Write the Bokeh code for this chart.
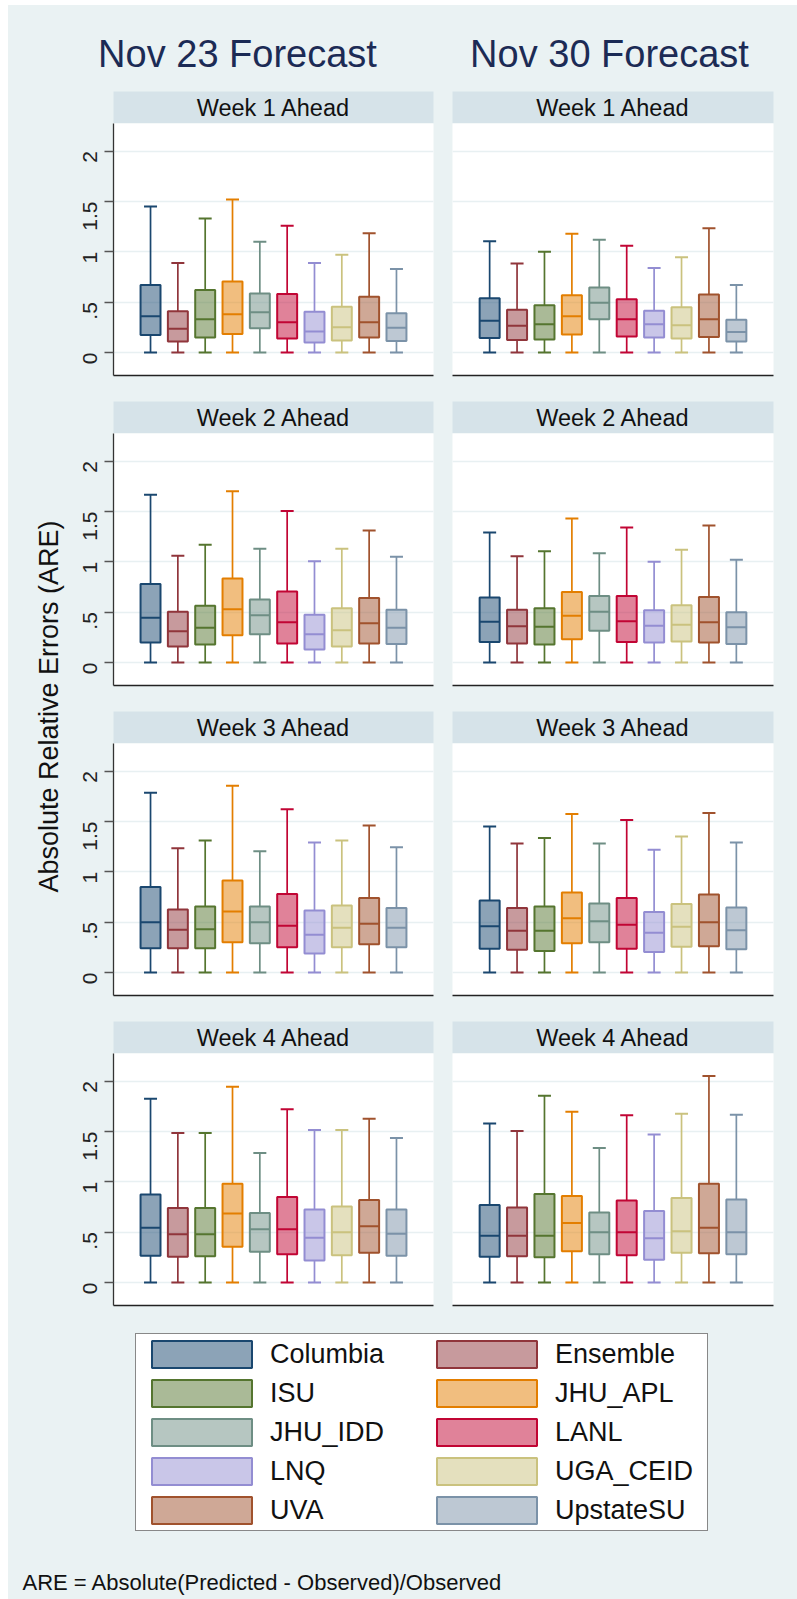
import math
from bokeh.plotting import figure
from bokeh.models import (Range1d, LinearAxis, FixedTicker, Grid, Label, Legend,
                          LegendItem, ColumnDataSource)
from bokeh.layouts import column, row
from bokeh.embed import file_html
from bokeh.resources import INLINE

# ---------------- data ----------------
MODELS = ["Columbia", "Ensemble", "ISU", "JHU_APL", "JHU_IDD",
          "LANL", "LNQ", "UGA_CEID", "UVA", "UpstateSU"]
LINE_COLORS = ["#1a476f", "#90353b", "#55752f", "#e37e00", "#6e8e84",
               "#c10534", "#938dd2", "#cac27e", "#a0522d", "#7b92a8"]
FORECASTS = ["Nov 23 Forecast", "Nov 30 Forecast"]
WEEKS = ["Week 1 Ahead", "Week 2 Ahead", "Week 3 Ahead", "Week 4 Ahead"]
Y_TICKS = [0, 0.5, 1, 1.5, 2]
Y_TICK_LABELS = ["0", ".5", "1", "1.5", "2"]
Y_LABEL = "Absolute Relative Errors (ARE)"
FOOTNOTE = "ARE = Absolute(Predicted - Observed)/Observed"

LOWER = [0, 0, 0, 0, 0, 0, 0, 0, 0, 0]

N23_W1_UPPER = [1.45, 0.89, 1.33, 1.52, 1.10, 1.26, 0.89, 0.97, 1.185, 0.83]
N23_W1_Q3 = [0.67, 0.41, 0.62, 0.705, 0.585, 0.58, 0.405, 0.455, 0.555, 0.39]
N23_W1_MED = [0.36, 0.235, 0.33, 0.38, 0.40, 0.30, 0.21, 0.25, 0.30, 0.245]
N23_W1_Q1 = [0.175, 0.11, 0.15, 0.185, 0.24, 0.14, 0.10, 0.12, 0.15, 0.115]

N30_W1_UPPER = [1.105, 0.885, 1.0, 1.18, 1.12, 1.06, 0.84, 0.945, 1.235, 0.67]
N30_W1_Q3 = [0.54, 0.425, 0.47, 0.57, 0.645, 0.53, 0.415, 0.45, 0.575, 0.325]
N30_W1_MED = [0.315, 0.265, 0.28, 0.36, 0.495, 0.33, 0.28, 0.27, 0.33, 0.205]
N30_W1_Q1 = [0.145, 0.125, 0.13, 0.18, 0.33, 0.16, 0.15, 0.14, 0.155, 0.11]

N23_W2_UPPER = [1.665, 1.06, 1.17, 1.70, 1.13, 1.505, 1.005, 1.13, 1.31, 1.05]
N23_W2_Q3 = [0.78, 0.505, 0.565, 0.835, 0.625, 0.705, 0.475, 0.54, 0.64, 0.525]
N23_W2_MED = [0.445, 0.31, 0.345, 0.53, 0.47, 0.40, 0.28, 0.32, 0.39, 0.345]
N23_W2_Q1 = [0.20, 0.16, 0.18, 0.27, 0.28, 0.19, 0.13, 0.16, 0.19, 0.185]

N30_W2_UPPER = [1.29, 1.055, 1.105, 1.43, 1.085, 1.34, 1.0, 1.12, 1.36, 1.02]
N30_W2_Q3 = [0.645, 0.525, 0.54, 0.70, 0.66, 0.66, 0.52, 0.57, 0.65, 0.50]
N30_W2_MED = [0.405, 0.36, 0.355, 0.465, 0.505, 0.41, 0.365, 0.375, 0.40, 0.35]
N30_W2_Q1 = [0.205, 0.19, 0.18, 0.23, 0.315, 0.205, 0.20, 0.21, 0.20, 0.185]

N23_W3_UPPER = [1.785, 1.235, 1.31, 1.855, 1.205, 1.62, 1.29, 1.31, 1.46, 1.245]
N23_W3_Q3 = [0.85, 0.625, 0.655, 0.915, 0.655, 0.78, 0.615, 0.665, 0.74, 0.64]
N23_W3_MED = [0.50, 0.425, 0.43, 0.605, 0.50, 0.465, 0.375, 0.445, 0.485, 0.445]
N23_W3_Q1 = [0.24, 0.24, 0.24, 0.30, 0.29, 0.25, 0.19, 0.25, 0.28, 0.25]

N30_W3_UPPER = [1.45, 1.28, 1.335, 1.575, 1.28, 1.515, 1.22, 1.35, 1.585, 1.29]
N30_W3_Q3 = [0.715, 0.64, 0.655, 0.795, 0.685, 0.74, 0.60, 0.68, 0.775, 0.645]
N30_W3_MED = [0.46, 0.415, 0.415, 0.54, 0.51, 0.475, 0.395, 0.455, 0.50, 0.42]
N30_W3_Q1 = [0.235, 0.225, 0.215, 0.29, 0.30, 0.235, 0.205, 0.255, 0.26, 0.23]

N23_W4_UPPER = [1.825, 1.485, 1.485, 1.945, 1.285, 1.72, 1.515, 1.515, 1.625, 1.435]
N23_W4_Q3 = [0.875, 0.74, 0.74, 0.98, 0.69, 0.85, 0.725, 0.755, 0.82, 0.725]
N23_W4_MED = [0.545, 0.48, 0.48, 0.685, 0.53, 0.53, 0.445, 0.50, 0.56, 0.485]
N23_W4_Q1 = [0.265, 0.255, 0.26, 0.355, 0.305, 0.28, 0.22, 0.27, 0.295, 0.265]

N30_W4_UPPER = [1.58, 1.505, 1.855, 1.695, 1.335, 1.66, 1.47, 1.675, 2.05, 1.665]
N30_W4_Q3 = [0.77, 0.745, 0.88, 0.86, 0.695, 0.815, 0.71, 0.84, 0.98, 0.825]
N30_W4_MED = [0.465, 0.465, 0.465, 0.59, 0.50, 0.50, 0.44, 0.51, 0.545, 0.50]
N30_W4_Q1 = [0.255, 0.26, 0.25, 0.31, 0.28, 0.27, 0.225, 0.295, 0.29, 0.28]

PANELS = [
    [(N23_W1_UPPER, N23_W1_Q3, N23_W1_MED, N23_W1_Q1),
     (N30_W1_UPPER, N30_W1_Q3, N30_W1_MED, N30_W1_Q1)],
    [(N23_W2_UPPER, N23_W2_Q3, N23_W2_MED, N23_W2_Q1),
     (N30_W2_UPPER, N30_W2_Q3, N30_W2_MED, N30_W2_Q1)],
    [(N23_W3_UPPER, N23_W3_Q3, N23_W3_MED, N23_W3_Q1),
     (N30_W3_UPPER, N30_W3_Q3, N30_W3_MED, N30_W3_Q1)],
    [(N23_W4_UPPER, N23_W4_Q3, N23_W4_MED, N23_W4_Q1),
     (N30_W4_UPPER, N30_W4_Q3, N30_W4_MED, N30_W4_Q1)],
]

# ---------------- style ----------------
BG = "#EAF2F3"
STRIP = "#D6E3E9"
GRID = "#E8F0F2"
TITLE_COLOR = "#1C2B55"
FONT = "Liberation Sans"
BGSTYLE = {"background-color": BG}

COL_W = [372, 355]
BORDER_L = [43, 10]
BORDER_R = [9, 24]
FRAME_H = 252
PANEL_H = [278, 278, 278, 256]
STRIP_H = 32
X_POS = list(range(len(MODELS)))


def base_fig(width, height, bl, br, bt, bb, xr, yr, bgfill):
    p = figure(width=width, height=height, x_range=xr, y_range=yr,
               x_axis_location=None, y_axis_location=None,
               toolbar_location=None, output_backend="svg", title=None,
               min_border_left=bl, min_border_right=br,
               min_border_top=bt, min_border_bottom=bb,
               background_fill_color=bgfill, border_fill_color=BG,
               outline_line_color=None, styles=BGSTYLE)
    p.center = [c for c in p.center if not isinstance(c, Grid)]
    p.renderers = [c for c in p.renderers if not isinstance(c, Grid)]
    return p


def make_strip(text, c):
    p = base_fig(COL_W[c], STRIP_H, BORDER_L[c], BORDER_R[c], 0, 0,
                 Range1d(0, 1), Range1d(0, 1), STRIP)
    p.add_layout(Label(x=0.5, y=0.5, text=text, text_align="center",
                       text_baseline="middle", text_font=FONT,
                       text_font_size="23.5px", text_color="#111111"))
    return p


def make_panel(data, r, c):
    upper, q3, med, q1 = data
    p = base_fig(COL_W[c], PANEL_H[r], BORDER_L[c], BORDER_R[c], 0,
                 PANEL_H[r] - FRAME_H,
                 Range1d(-1.355, 10.355), Range1d(-0.228, 2.274), "white")
    grid = Grid(dimension=1, ticker=FixedTicker(ticks=Y_TICKS),
                grid_line_color=GRID, grid_line_width=1.6)
    p.add_layout(grid)
    if c == 0:
        ax = LinearAxis(ticker=FixedTicker(ticks=Y_TICKS, minor_ticks=[]),
                        major_label_overrides={t: l for t, l in zip(Y_TICKS, Y_TICK_LABELS)},
                        major_label_orientation=math.pi / 2,
                        major_label_text_font=FONT,
                        major_label_text_font_size="21px",
                        major_label_text_color="#222222",
                        major_label_standoff=14,
                        major_tick_out=9, major_tick_in=0,
                        major_tick_line_color="#555555",
                        major_tick_line_width=1.3,
                        minor_tick_line_color=None,
                        axis_line_color="#333333", axis_line_width=1.3)
        p.add_layout(ax, "left")
    bx = LinearAxis(ticker=FixedTicker(ticks=[], minor_ticks=[]),
                    major_label_text_font_size="0px",
                    major_tick_line_color=None, minor_tick_line_color=None,
                    axis_line_color="#222222", axis_line_width=1.6)
    p.add_layout(bx, "below")

    src = ColumnDataSource(dict(x=X_POS, upper=upper, q3=q3, med=med, q1=q1,
                                low=LOWER, color=LINE_COLORS))
    p.segment(x0="x", y0="q3", x1="x", y1="upper", source=src,
              line_color="color", line_width=1.7)
    p.segment(x0="x", y0="low", x1="x", y1="q1", source=src,
              line_color="color", line_width=1.7)
    p.scatter(x="x", y="upper", source=src, marker="dash", size=13,
              line_color="color", line_width=2)
    p.scatter(x="x", y="low", source=src, marker="dash", size=13,
              line_color="color", line_width=2)
    p.vbar(x="x", width=0.73, top="q3", bottom="q1", source=src,
           fill_color="color", fill_alpha=0.5, line_color="color",
           line_width=2)
    p.scatter(x="x", y="med", source=src, marker="dash", size=20,
              line_color="color", line_width=2)
    return p


# header
header = base_fig(789, 86, 0, 0, 0, 0, Range1d(0, 1), Range1d(0, 1), BG)
for i, t in enumerate(FORECASTS):
    header.add_layout(Label(x=[229, 601][i], y=38, x_units="screen",
                            y_units="screen", text=t, text_align="center",
                            text_baseline="alphabetic", text_font=FONT,
                            text_font_size="38px", text_color=TITLE_COLOR))

rows = []
for r in range(4):
    rows.append(row(make_strip(WEEKS[r], 0), make_strip(WEEKS[r], 1),
                    styles=BGSTYLE))
    rows.append(row(make_panel(PANELS[r][0], r, 0),
                    make_panel(PANELS[r][1], r, 1), styles=BGSTYLE))
grid_col = column(*rows, styles=BGSTYLE)

total_h = STRIP_H * 4 + sum(PANEL_H)
ylab = base_fig(62, total_h, 0, 0, 0, 0, Range1d(0, 1), Range1d(0, 1), BG)
ylab.add_layout(Label(x=40, y=total_h - (706 - 91), x_units="screen",
                      y_units="screen", text=Y_LABEL, angle=math.pi / 2,
                      text_align="center", text_baseline="middle",
                      text_font=FONT, text_font_size="27px",
                      text_color="#111111"))

bottom_h = 1594 - 86 - total_h
bottom = base_fig(789, bottom_h, 0, 0, 0, 0, Range1d(0, 1), Range1d(0, 1), BG)
# legend keys: invisible one-box renderers carrying each model's style
legend_order = list(range(0, len(MODELS), 2)) + list(range(1, len(MODELS), 2))
items = []
for i in legend_order:
    col = LINE_COLORS[i]
    rr = bottom.vbar(x=[X_POS[i]], top=[N23_W1_Q3[i]], bottom=[N23_W1_Q1[i]],
                     width=0.5, fill_color=col, fill_alpha=0.5,
                     line_color=col, line_width=2, visible=False)
    items.append(LegendItem(label=MODELS[i], renderers=[rr]))
legend = Legend(items=items, ncols=2, location=(127, 68),
                glyph_width=125, glyph_height=34, label_standoff=6,
                label_width=149, spacing=5, padding=3, margin=0,
                label_text_font=FONT, label_text_font_size="27px",
                label_text_color="#111111", click_policy="none",
                border_line_color="#111111", border_line_width=1.2,
                background_fill_color="white", background_fill_alpha=1.0)
bottom.add_layout(legend, "center")
bottom.add_layout(Label(x=14, y=17, x_units="screen", y_units="screen",
                        text=FOOTNOTE, text_align="left",
                        text_baseline="alphabetic", text_font=FONT,
                        text_font_size="22px", text_color="#111111"))

root = column(header, row(ylab, grid_col, styles=BGSTYLE), bottom,
              margin=(5, 0, 0, 8), styles=BGSTYLE)

open("out.html", "w").write(file_html(root, INLINE))
